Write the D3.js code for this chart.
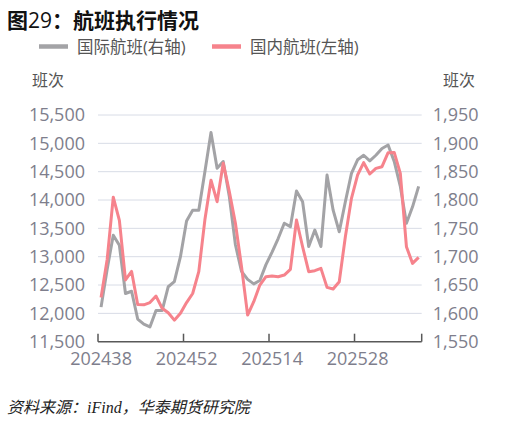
<!DOCTYPE html>
<html>
<head>
<meta charset="utf-8">
<script src="https://cdn.jsdelivr.net/npm/d3@7"></script>
<style>
  html, body { margin: 0; padding: 0; background: #fff; }
  svg { display: block; }
  text { font-family: "Open Sans", "Noto Sans CJK SC", sans-serif; }
</style>
</head>
<body>
<svg id="chart" width="519" height="426"></svg>
<script>
// ---- data ----
const weeks = [];
for (let w = 38; w <= 52; w++) weeks.push("2024" + w);
for (let w = 1; w <= 38; w++) weeks.push("2025" + String(w).padStart(2, "0"));

const international = [
  1611, 1678, 1738, 1720, 1635, 1639, 1590, 1581, 1576, 1605,
  1605, 1647, 1656, 1700, 1763, 1782, 1782, 1850, 1919, 1856,
  1868, 1806, 1721, 1674, 1660, 1652, 1658, 1686, 1708, 1732,
  1759, 1753, 1816, 1797, 1718, 1747, 1718, 1844, 1782, 1744,
  1797, 1847, 1871, 1879, 1869, 1879, 1891, 1897, 1868, 1824,
  1759, 1788, 1824
];
const domestic = [
  12280, 12950, 14050, 13640, 12590, 12740, 12155, 12150, 12190, 12305,
  12090, 12010, 11880, 12000, 12190, 12350, 12735, 13650, 14350, 13970,
  14650, 14150, 13590, 12825, 11970, 12206, 12500, 12647, 12659, 12647,
  12676, 12776, 13647, 13176, 12735, 12753, 12794, 12459, 12429, 12559,
  13353, 14029, 14441, 14659, 14459, 14559, 14588, 14835, 14840, 14471,
  13176, 12882, 12988
];
const xTickLabels = ["202438", "202452", "202514", "202528"];
const leftTicks = [11500, 12000, 12500, 13000, 13500, 14000, 14500, 15000, 15500];
const rightTicks = [1550, 1600, 1650, 1700, 1750, 1800, 1850, 1900, 1950];
const seriesNames = ["国际航班(右轴)", "国内航班(左轴)"];

// ---- layout ----
const svg = d3.select("#chart");
const L = 98, R = 421.7, T = 115, B = 341.7;
const greyC = "#A3A3A6", pinkC = "#F6838C";
const labelC = "#7E7E8C";

const x = d3.scaleBand().domain(weeks).range([L, R]).padding(0);
const yL = d3.scaleLinear().domain([11500, 15500]).range([B, T]);
const yR = d3.scaleLinear().domain([1550, 1950]).range([B, T]);
const cx = w => x(w) + x.bandwidth() / 2;

// title
const title = svg.append("text").attr("x", 7).attr("y", 28)
  .attr("font-size", 21).attr("font-weight", "bold").attr("fill", "#111")
  .attr("font-family", "'Noto Sans CJK SC', sans-serif");
title.append("tspan").text("图");
title.append("tspan").attr("font-weight", "normal").attr("font-family", "'Open Sans', sans-serif").text("29");
title.append("tspan").text("：航班执行情况");

// legend
const leg = [
  { name: seriesNames[0], color: greyC, x: 39 },
  { name: seriesNames[1], color: pinkC, x: 212 }
];
leg.forEach(d => {
  svg.append("line").attr("x1", d.x).attr("x2", d.x + 29).attr("y1", 46.5).attr("y2", 46.5)
    .attr("stroke", d.color).attr("stroke-width", 4.5);
  svg.append("text").attr("x", d.x + 38).attr("y", 52.5).attr("font-size", 16.5)
    .attr("fill", "#555").attr("font-family", "'Noto Sans CJK SC', sans-serif").text(d.name);
});

// units
svg.append("text").attr("x", 32).attr("y", 86).attr("font-size", 16).attr("fill", "#555")
  .attr("font-family", "'Noto Sans CJK SC', sans-serif").text("班次");
svg.append("text").attr("x", 443).attr("y", 86).attr("font-size", 16).attr("fill", "#555")
  .attr("font-family", "'Noto Sans CJK SC', sans-serif").text("班次");

// gridlines
svg.append("g").selectAll("line").data(leftTicks.filter(v => v > 11500)).join("line")
  .attr("x1", L).attr("x2", R).attr("y1", d => yL(d)).attr("y2", d => yL(d))
  .attr("stroke", "#D8DCE6").attr("stroke-width", 1);

// left axis labels
const gl = svg.append("g").attr("transform", `translate(${L},0)`)
  .call(d3.axisLeft(yL).tickValues(leftTicks).tickSize(0).tickPadding(13).tickFormat(d3.format(",")));
gl.select(".domain").remove();
gl.selectAll("text").attr("font-size", 18).attr("fill", labelC).attr("font-family", "'Open Sans', sans-serif");

// right axis labels
const gr = svg.append("g").attr("transform", `translate(${R},0)`)
  .call(d3.axisRight(yR).tickValues(rightTicks).tickSize(0).tickPadding(11).tickFormat(d3.format(",")));
gr.select(".domain").remove();
gr.selectAll("text").attr("font-size", 18).attr("fill", labelC).attr("font-family", "'Open Sans', sans-serif");

// lines
const lineG = d3.line().x((d, i) => cx(weeks[i])).y(d => yR(d));
const lineP = d3.line().x((d, i) => cx(weeks[i])).y(d => yL(d));
svg.append("path").datum(international).attr("d", lineG).attr("fill", "none")
  .attr("stroke", greyC).attr("stroke-width", 3).attr("stroke-linejoin", "round");
svg.append("path").datum(domestic).attr("d", lineP).attr("fill", "none")
  .attr("stroke", pinkC).attr("stroke-width", 3).attr("stroke-linejoin", "round");

// x axis: labels centred on categories
const gx = svg.append("g").attr("transform", `translate(0,${B})`)
  .call(d3.axisBottom(x).tickValues(xTickLabels).tickSize(0).tickPadding(11));
gx.select(".domain").remove();
gx.selectAll("text").attr("font-size", 18).attr("fill", labelC).attr("font-family", "'Open Sans', sans-serif");

// axis line and boundary tick marks
svg.append("line").attr("x1", L).attr("x2", R).attr("y1", B).attr("y2", B)
  .attr("stroke", "#595959").attr("stroke-width", 1.5);
const tickPos = xTickLabels.map(w => x(w)).concat([R]);
svg.append("g").selectAll("line").data(tickPos).join("line")
  .attr("x1", d => d).attr("x2", d => d).attr("y1", B).attr("y2", B - 8)
  .attr("stroke", "#595959").attr("stroke-width", 1.5);

// source
const src = svg.append("text").attr("x", 7).attr("y", 413).attr("font-size", 16).attr("font-style", "italic")
  .attr("fill", "#222").attr("font-family", "'Noto Sans CJK SC', sans-serif");
src.append("tspan").text("资料来源：");
src.append("tspan").attr("font-family", "'Liberation Serif', serif").text("iFind");
src.append("tspan").text("，华泰期货研究院");
</script>
</body>
</html>
